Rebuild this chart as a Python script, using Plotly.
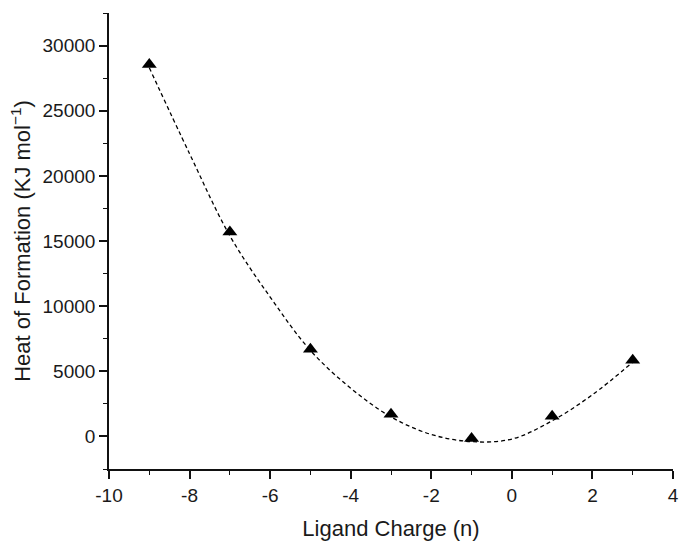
import plotly.graph_objects as go

# Data points (ligand charge vs heat of formation)
charge = [-9, -7, -5, -3, -1, 1, 3]
heat = [28550, 15700, 6700, 1700, -150, 1550, 5850]

# Fitted curve
fit_x = [-9, -8, -7, -6, -5, -4, -3, -2, -1, 0, 1, 2, 3]
fit_y = [28300, 21700, 15400, 10700, 6600, 3700, 1500, 150, -400, -200, 1200, 3200, 5700]

x_ticks = [-10, -8, -6, -4, -2, 0, 2, 4]
y_ticks = [0, 5000, 10000, 15000, 20000, 25000, 30000]

FONT = "Liberation Sans, Arial, sans-serif"

fig = go.Figure()
fig.add_trace(go.Scatter(
    x=fit_x, y=fit_y, mode="lines",
    line=dict(color="black", width=1.3, dash="4px,3px", shape="spline", smoothing=1.0),
    showlegend=False, hoverinfo="skip",
))
fig.add_trace(go.Scatter(
    x=charge, y=heat, mode="markers",
    marker=dict(symbol="triangle-up", size=13, color="black"),
    showlegend=False,
))

fig.update_layout(
    width=680, height=541,
    margin=dict(l=109, r=7, t=13, b=72, autoexpand=False),
    paper_bgcolor="white", plot_bgcolor="white",
    font=dict(family=FONT, size=19, color="#1a1a1a"),
    xaxis=dict(
        range=[-10, 4], tickvals=x_ticks, ticktext=[str(v) for v in x_ticks],
        showgrid=False, zeroline=False, automargin=False,
        showline=True, linecolor="#111", linewidth=1.6,
        ticks="outside", ticklen=8, tickwidth=1.5, tickcolor="#111",
        minor=dict(dtick=1, ticks="outside", ticklen=4, tickwidth=1.3, tickcolor="#111"),
        tickfont=dict(size=19),
        title=dict(text="Ligand Charge (n)", font=dict(size=22), standoff=17),
    ),
    yaxis=dict(
        range=[-2500, 32500], tickvals=y_ticks, ticktext=[str(v) for v in y_ticks],
        showgrid=False, zeroline=False, automargin=False,
        showline=True, linecolor="#111", linewidth=1.6,
        ticks="outside", ticklen=8, tickwidth=1.5, tickcolor="#111",
        minor=dict(dtick=2500, ticks="outside", ticklen=4, tickwidth=1.3, tickcolor="#111"),
        tickfont=dict(size=19),
        title=dict(text="Heat of Formation (KJ mol<sup>−1</sup>)", font=dict(size=22), standoff=6),
    ),
)

fig.write_html("out.html", config={"displayModeBar": False},
               post_script="document.body.style.margin='0';")
